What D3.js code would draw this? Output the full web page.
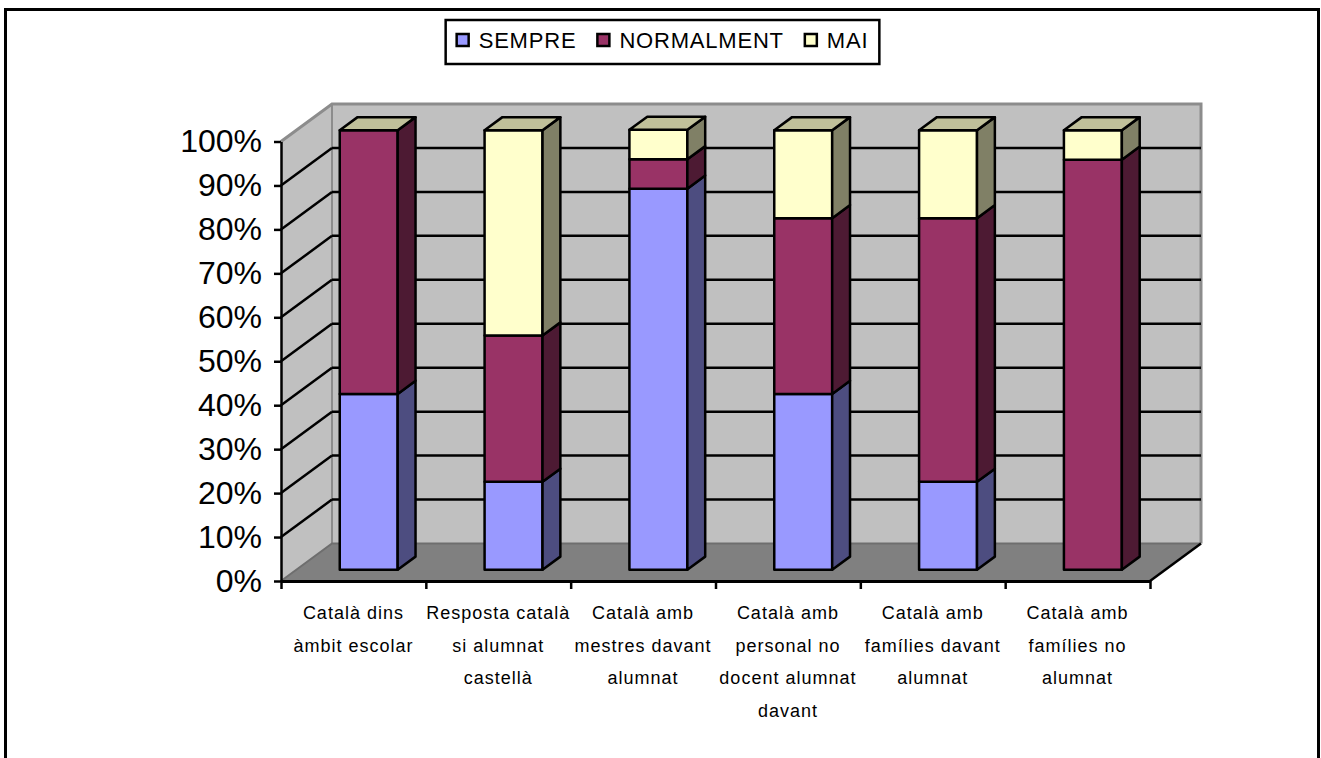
<!DOCTYPE html>
<html lang="ca">
<head>
    <meta charset="UTF-8">
    <title>Ús del català</title>
    <script src="https://d3js.org/d3.v7.min.js"></script>
    <style>
        body {
            margin: 0;
            background: #fff;
            font-family: "Liberation Sans", Arial, sans-serif;
        }
        .ylab text {
            font-size: 32px;
            fill: #000;
        }
        .cat-label {
            font-size: 18px;
            letter-spacing: 1px;
        }
        .legend-text {
            font-size: 22px;
            letter-spacing: 0.8px;
        }
    </style>
</head>
<body>
    <div id="chart"></div>

    <script>
        // Data (percentages)
        const categories = [
            "Català dins àmbit escolar",
            "Resposta català si alumnat castellà",
            "Català amb mestres davant alumnat",
            "Català amb personal no docent alumnat davant",
            "Català amb famílies davant alumnat",
            "Català amb famílies no alumnat"
        ];
        const categoryLines = [
            ["Català dins", "àmbit escolar"],
            ["Resposta català", "si alumnat", "castellà"],
            ["Català amb", "mestres davant", "alumnat"],
            ["Català amb", "personal no", "docent alumnat", "davant"],
            ["Català amb", "famílies davant", "alumnat"],
            ["Català amb", "famílies no", "alumnat"]
        ];
        const seriesNames = ["SEMPRE", "NORMALMENT", "MAI"];
        const sempre = [40, 20, 86.7, 40, 20, 0];
        const normalment = [60, 33.3, 6.7, 40, 60, 93.3];
        const mai = [0, 46.7, 6.7, 20, 20, 6.7];
        const yTickValues = [0, 10, 20, 30, 40, 50, 60, 70, 80, 90, 100];

        // colours: front, side, top
        const colors = {
            SEMPRE:     { front: "#9999FF", side: "#4D4D80", top: "#7373BF" },
            NORMALMENT: { front: "#993366", side: "#4D1A33", top: "#732650" },
            MAI:        { front: "#FFFFCC", side: "#808066", top: "#C0C09A" }
        };

        const W = 1321, H = 758;
        const DX = 51, DY = 37.5;        // depth offset of the back wall
        const zF = 0.3, zB = 0.65;       // bar front / back depth

        const svg = d3.select("#chart")
                      .append("svg")
                      .attr("width", W)
                      .attr("height", H);

        // outer frame
        svg.append("rect")
           .attr("x", 5.5).attr("y", 9.5)
           .attr("width", 1313).attr("height", 760)
           .attr("fill", "#fff")
           .attr("stroke", "#000")
           .attr("stroke-width", 3);

        const x = d3.scaleBand()
                    .domain(categories)
                    .range([281, 1150])
                    .paddingInner(0.6)
                    .paddingOuter(0.3);
        const xEdge = d3.scaleLinear().domain([0, categories.length]).range([281, 1150]);
        const y = d3.scaleLinear().domain([0, 100]).range([581, 141.5]);

        const P = (px, v, z) => [px + z * DX, y(v) - z * DY];
        const poly = pts => "M" + pts.map(p => p.join(",")).join("L") + "Z";

        const x0 = xEdge(0), x1 = xEdge(categories.length);

        // walls
        const walls = svg.append("g");
        walls.append("path")   // side wall
             .attr("d", poly([P(x0, 0, 0), P(x0, 100, 0), P(x0, 100, 1), P(x0, 0, 1)]))
             .attr("fill", "#C0C0C0");
        walls.append("path")   // back wall
             .attr("d", poly([P(x0, 0, 1), P(x0, 100, 1), P(x1, 100, 1), P(x1, 0, 1)]))
             .attr("fill", "#C0C0C0");
        walls.append("path")   // floor
             .attr("d", poly([P(x0, 0, 0), P(x1, 0, 0), P(x1, 0, 1), P(x0, 0, 1)]))
             .attr("fill", "#808080");

        // wall edges
        walls.append("path")
             .attr("d", "M" + [P(x0, 100, 0), P(x0, 100, 1), P(x1, 100, 1), P(x1, 0, 1)].map(p => p.join(",")).join("L"))
             .attr("fill", "none").attr("stroke", "#8C8C8C").attr("stroke-width", 3);
        walls.append("path")
             .attr("d", "M" + [P(x0, 0, 1), P(x0, 100, 1)].map(p => p.join(",")).join("L"))
             .attr("fill", "none").attr("stroke", "#8C8C8C").attr("stroke-width", 2);
        walls.append("path")
             .attr("d", "M" + [P(x0, 0, 0), P(x0, 0, 1), P(x1, 0, 1)].map(p => p.join(",")).join("L"))
             .attr("fill", "none").attr("stroke", "#6E6E6E").attr("stroke-width", 2);

        // gridlines
        const grid = yTickValues.filter(v => v > 0 && v < 100);
        walls.selectAll(".gb").data(grid).join("line")
             .attr("x1", d => P(x0, d, 1)[0]).attr("y1", d => P(x0, d, 1)[1])
             .attr("x2", d => P(x1, d, 1)[0]).attr("y2", d => P(x1, d, 1)[1])
             .attr("stroke", "#000").attr("stroke-width", 2.5);
        walls.selectAll(".gs").data(grid).join("line")
             .attr("x1", d => P(x0, d, 0)[0]).attr("y1", d => P(x0, d, 0)[1])
             .attr("x2", d => P(x0, d, 1)[0]).attr("y2", d => P(x0, d, 1)[1])
             .attr("stroke", "#000").attr("stroke-width", 2.5);

        // floor right edge
        walls.append("line")
             .attr("x1", P(x1, 0, 0)[0]).attr("y1", P(x1, 0, 0)[1])
             .attr("x2", P(x1, 0, 1)[0]).attr("y2", P(x1, 0, 1)[1])
             .attr("stroke", "#000").attr("stroke-width", 2.5);

        // stacked bars
        const table = categories.map((c, i) => ({
            cat: c, SEMPRE: sempre[i], NORMALMENT: normalment[i], MAI: mai[i]
        }));
        const stacked = d3.stack().keys(seriesNames)(table);

        const bars = svg.append("g")
                        .attr("stroke", "#000")
                        .attr("stroke-width", 2.5)
                        .attr("stroke-linejoin", "round");

        categories.forEach((c, i) => {
            const bx0 = x(c), bx1 = x(c) + x.bandwidth();
            const g = bars.append("g");
            stacked.forEach(layer => {
                const lo = layer[i][0], hi = layer[i][1];
                if (hi - lo <= 0) return;
                const col = colors[layer.key];
                g.append("path")
                 .attr("d", poly([P(bx0, lo, zF), P(bx1, lo, zF), P(bx1, hi, zF), P(bx0, hi, zF)]))
                 .attr("fill", col.front);
                g.append("path")
                 .attr("d", poly([P(bx1, lo, zF), P(bx1, lo, zB), P(bx1, hi, zB), P(bx1, hi, zF)]))
                 .attr("fill", col.side);
            });
            const top = stacked[stacked.length - 1][i][1];
            g.append("path")
             .attr("d", poly([P(bx0, top, zF), P(bx1, top, zF), P(bx1, top, zB), P(bx0, top, zB)]))
             .attr("fill", colors.MAI.top);
        });

        // y axis
        const yAxis = svg.append("g")
           .attr("class", "ylab")
           .attr("transform", `translate(${x0}, 0)`)
           .call(d3.axisLeft(y).tickValues(yTickValues)
                   .tickFormat(d => d + "%").tickSize(7).tickSizeOuter(0).tickPadding(12));
        yAxis.selectAll("text").attr("font-family", "'Liberation Sans', Arial, sans-serif");
        yAxis.selectAll("line").attr("stroke", "#000").attr("stroke-width", 2.5);
        yAxis.select(".domain").attr("stroke", "#000").attr("stroke-width", 2.5);

        // x axis (ticks at category boundaries)
        const xAxis = svg.append("g")
           .attr("transform", `translate(0, ${y(0)})`)
           .call(d3.axisBottom(xEdge).ticks(categories.length).tickFormat("").tickSize(8).tickSizeOuter(0));
        xAxis.selectAll("line").attr("stroke", "#000").attr("stroke-width", 2.5);
        xAxis.select(".domain").attr("stroke", "#000").attr("stroke-width", 3);

        // category labels
        const labels = svg.append("g");
        categories.forEach((c, i) => {
            const t = labels.append("text")
                            .attr("class", "cat-label")
                            .attr("text-anchor", "middle");
            categoryLines[i].forEach((line, k) => {
                t.append("tspan")
                 .attr("x", x(c) + x.bandwidth() / 2)
                 .attr("y", 619 + k * 32.7)
                 .text(line);
            });
        });

        // legend
        const legend = svg.append("g");
        const items = legend.selectAll("g").data(seriesNames).join("g");
        items.append("rect")
             .attr("width", 12).attr("height", 12)
             .attr("fill", d => colors[d].front)
             .attr("stroke", "#000").attr("stroke-width", 2.5);
        items.append("text")
             .attr("class", "legend-text")
             .attr("x", 22).attr("y", 14)
             .text(d => d);
        let cx = 0;
        items.each(function () {
            d3.select(this).attr("transform", `translate(${cx}, 0)`);
            cx += 22 + d3.select(this).select("text").node().getComputedTextLength() + 21;
        });
        const legW = cx - 21 + 22;
        const legX = 662.5 - legW / 2;
        legend.insert("rect", ":first-child")
              .attr("x", -11).attr("y", -14)
              .attr("width", legW).attr("height", 44)
              .attr("fill", "#fff")
              .attr("stroke", "#000").attr("stroke-width", 2.5);
        legend.attr("transform", `translate(${legX + 11}, 34)`);
    </script>
</body>
</html>
